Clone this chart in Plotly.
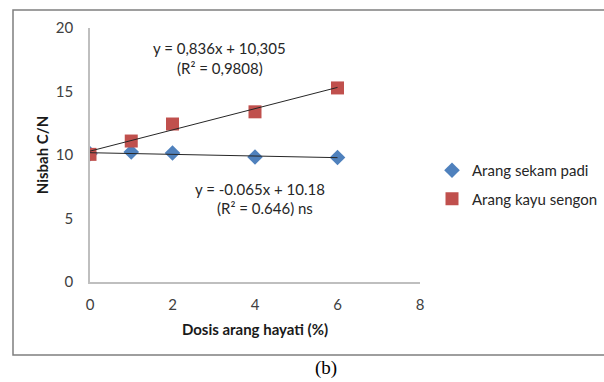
import plotly.graph_objects as go

dosis = [0, 1, 2, 4, 6]
sekam_padi = [10.1, 10.24, 10.16, 9.84, 9.8]
kayu_sengon = [10.05, 11.1, 12.44, 13.4, 15.28]

# trendline coefficients as printed on the chart
sengon_slope, sengon_intercept = 0.836, 10.305
padi_slope, padi_intercept = -0.065, 10.18
trend_x = [0, 6]

x_ticks = [0, 2, 4, 6, 8]
y_ticks = [0, 5, 10, 15, 20]

BLUE = "#4F81BD"
RED = "#C0504D"
FONT = "Lato, Open Sans, sans-serif"

fig = go.Figure()
fig.add_trace(go.Scatter(x=dosis, y=sekam_padi, mode="markers", name="Arang sekam padi",
                         legendgroup="a",
                         marker=dict(symbol="diamond", size=12, color=BLUE)))
fig.add_trace(go.Scatter(x=dosis, y=kayu_sengon, mode="markers", name="Arang kayu sengon",
                         legendgroup="b",
                         marker=dict(symbol="square", size=13, color=RED)))
fig.add_trace(go.Scatter(x=trend_x, y=[sengon_intercept + sengon_slope * v for v in trend_x],
                         mode="lines", line=dict(color="#262626", width=1), showlegend=False,
                         hoverinfo="skip"))
fig.add_trace(go.Scatter(x=trend_x, y=[padi_intercept + padi_slope * v for v in trend_x],
                         mode="lines", line=dict(color="#262626", width=1), showlegend=False,
                         hoverinfo="skip"))

axis_common = dict(showgrid=False, zeroline=False, showline=True, linecolor="#BFBFBF",
                   linewidth=1.5, ticks="", tickfont=dict(size=15, color="#404040", family=FONT))

fig.update_xaxes(range=[0, 8], tickvals=x_ticks, ticklabelstandoff=8, **axis_common,
                 title=dict(text="<b>Dosis arang hayati (%)</b>", font=dict(size=15, color="#1a1a1a", family=FONT),
                            standoff=13))
fig.update_yaxes(range=[0, 20], tickvals=y_ticks, ticklabelstandoff=12, **axis_common,
                 title=dict(text="<b>Nisbah C/N</b>", font=dict(size=15, color="#1a1a1a", family=FONT),
                            standoff=4))

ann_font = dict(size=15, color="#262626", family=FONT)
def ann(px, py, text, font=ann_font):
    fig.add_annotation(x=(px - 90) / 330, y=(282 - py) / 254, xref="paper", yref="paper",
                       xanchor="center", yanchor="middle", text=text, showarrow=False, font=font)

ann(219, 48, "y = 0,836x + 10,305")
ann(220, 68, "(R² = 0,9808)")
ann(260, 189, "y = -0.065x + 10.18")
ann(265, 208, "(R² = 0.646) ns")
ann(326, 368, "(b)", dict(size=19, color="#000000", family="Liberation Serif, serif"))

# outer frame
fig.add_shape(type="rect", xref="paper", yref="paper",
              x0=(13 - 90) / 330, x1=(608 - 90) / 330, y0=(282 - 355) / 254, y1=(282 - 10) / 254,
              line=dict(color="#7F7F7F", width=1.5), fillcolor="rgba(0,0,0,0)")

fig.update_layout(
    width=604, height=382,
    margin=dict(l=90, r=184, t=28, b=100, autoexpand=False),
    paper_bgcolor="white", plot_bgcolor="white",
    legend=dict(x=(432 - 90) / 330, y=(282 - 154) / 254, xanchor="left", yanchor="top",
                font=dict(size=15, color="#262626", family=FONT), tracegroupgap=6,
                bgcolor="rgba(0,0,0,0)"),
    showlegend=True,
)

fig.write_html("out.html", config={"displayModeBar": False},
               post_script="document.body.style.margin='0';")
